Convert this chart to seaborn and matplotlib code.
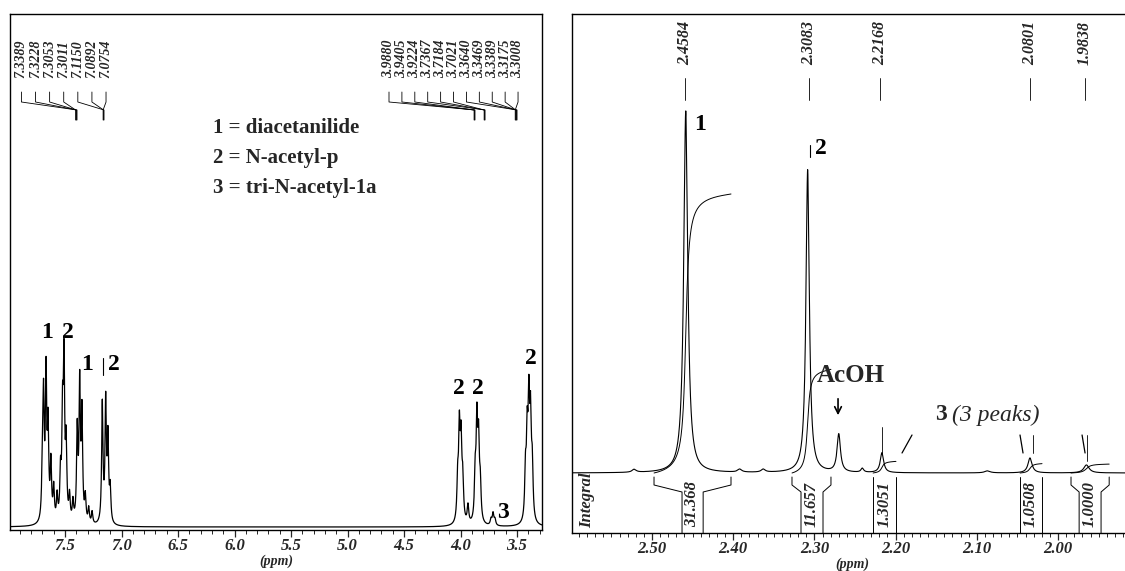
import numpy as np
import pandas as pd
import matplotlib
matplotlib.use("Agg")
import matplotlib.pyplot as plt
from matplotlib.ticker import MultipleLocator
import seaborn as sns

# ---------------- data ----------------
# left spectrum (1H, aromatic and N-acetyl region): peak centre (ppm) and height
arom_ppm = [7.700, 7.690, 7.668, 7.650, 7.625, 7.600, 7.570, 7.540, 7.522, 7.509,
            7.490, 7.460, 7.430, 7.392, 7.370, 7.350, 7.320, 7.290, 7.260,
            7.170, 7.140, 7.120, 7.100]
arom_h = [49, 115, 143, 90, 57, 33, 25, 45, 98, 152,
          74, 25, 20, 90, 135, 107, 25, 15, 12,
          119, 119, 82, 33]
aliph_ppm = [4.025, 4.010, 3.995, 3.980, 3.934, 3.870, 3.855, 3.840, 3.825,
             3.730, 3.712, 3.695, 3.425, 3.410, 3.395, 3.380, 3.365]
aliph_h = [40, 88, 75, 38, 18, 45, 95, 75, 34, 6, 12, 6, 48, 78, 108, 94, 50]

# right spectrum (expanded 1.9-2.6 ppm)
right_ppm = [2.5220, 2.4584, 2.3920, 2.3630, 2.3083, 2.2700, 2.2410, 2.2168, 2.0870, 2.0345, 1.9650]
right_h = [3, 362, 3, 3, 303, 38, 4, 20, 2, 15, 8]

# integrals in the right panel
integral_values = [31.368, 11.657, 1.3051, 1.0508, 1.0000]
integral_labels = ["31.368", "11.657", "1.3051", "1.0508", "1.0000"]

# peak-pick labels
left_shift_labels_a = ["7.3389", "7.3228", "7.3053", "7.3011", "7.1150", "7.0892", "7.0754"]
left_shift_labels_b = ["3.9880", "3.9405", "3.9224", "3.7367", "3.7184", "3.7021",
                       "3.3640", "3.3469", "3.3389", "3.3175", "3.3008"]
right_shift_labels = ["2.4584", "2.3083", "2.2168", "2.0801", "1.9838"]

left_ticks = [7.5, 7.0, 6.5, 6.0, 5.5, 5.0, 4.5, 4.0, 3.5]
left_tick_labels = ["7.5", "7.0", "6.5", "6.0", "5.5", "5.0", "4.5", "4.0", "3.5"]
right_ticks = [2.50, 2.40, 2.30, 2.20, 2.10, 2.00]
right_tick_labels = ["2.50", "2.40", "2.30", "2.20", "2.10", "2.00"]

legend_lines = ["1 = diacetanilide", "2 = N-acetyl-p", "3 = tri-N-acetyl-1a"]

# ---------------- style ----------------
sns.set_theme(style="white")
plt.rcParams["font.family"] = ["Liberation Serif", "DejaVu Serif"]
plt.rcParams["axes.linewidth"] = 1.0
plt.rcParams["axes.edgecolor"] = "black"

SERIF = ["Liberation Serif", "DejaVu Serif"]


def lorentz(x, centers, heights, gamma):
    y = np.zeros_like(x)
    for c, h in zip(centers, heights):
        y += h / (1.0 + ((x - c) / gamma) ** 2)
    return y


fig = plt.figure(figsize=(11.25, 5.71), dpi=100)
axL = fig.add_axes([10 / 1125, 41 / 571, 532 / 1125, 516 / 571])
axR = fig.add_axes([572 / 1125, 38 / 571, 560 / 1125, 519 / 571])

# ---------------- left panel ----------------
xl = np.linspace(7.987, 3.279, 14000)
yl = lorentz(xl, arom_ppm, arom_h, 0.007) + lorentz(xl, aliph_ppm, aliph_h, 0.008)
dfl = pd.DataFrame({"ppm": xl, "I": yl})
sns.lineplot(data=dfl, x="ppm", y="I", ax=axL, color="black", linewidth=0.9,
             estimator=None, errorbar=None)
axL.set_xlim(7.987, 3.279)
axL.set_ylim(-3, 513)
axL.set_yticks([])
axL.set_ylabel("")
axL.set_xticks(left_ticks)
axL.set_xticklabels(left_tick_labels)
axL.xaxis.set_minor_locator(MultipleLocator(0.1))
axL.set_xlabel("(ppm)", fontstyle="italic", fontweight="bold", fontsize=10, labelpad=0)

bold = dict(fontweight="bold", fontsize=17, family=SERIF, color="black")
axL.text(7.655, 194, "1", ha="center", va="center", **bold)
axL.text(7.478, 194, "2", ha="center", va="center", **bold)
axL.text(7.301, 162, "1", ha="center", va="center", **bold)
axL.plot([7.164, 7.164], [152, 169], color="black", lw=0.8)
axL.text(7.071, 162, "2", ha="center", va="center", **bold)
axL.text(4.013, 139, "2", ha="center", va="center", **bold)
axL.text(3.845, 139, "2", ha="center", va="center", **bold)
axL.text(3.376, 169, "2", ha="center", va="center", **bold)
axL.text(3.624, 15, "3", ha="center", va="center", **bold)

for k, line in enumerate(legend_lines):
    axL.text(6.190, 399 - 30 * k, line, ha="left", va="center",
             fontweight="bold", fontsize=15, family=SERIF)

lab_small = dict(rotation=90, ha="center", va="center", fontstyle="italic",
                 fontweight="bold", fontsize=10, family=SERIF)
lab = dict(rotation=90, ha="center", va="center", fontstyle="italic",
           fontweight="bold", fontsize=11.5, family=SERIF)
for i, s in enumerate(left_shift_labels_a):
    lx = 7.886 - i * 0.1248
    tx = 7.394 + 0.004 * (i % 4) if i < 4 else 7.155 + 0.004 * (i - 4)
    axL.text(lx, 468, s, **lab_small)
    axL.plot([lx, lx, tx, tx], [435, 425, 417, 407], color="black", lw=0.6)
for i, s in enumerate(left_shift_labels_b):
    lx = 4.633 - i * 0.1142
    if i < 3:
        tx = 3.872 + 0.004 * i
    elif i < 6:
        tx = 3.783 + 0.004 * (i - 3)
    else:
        tx = 3.50 + 0.004 * (i - 6)
    axL.text(lx, 468, s, **lab_small)
    axL.plot([lx, lx, tx, tx], [435, 425, 417, 407], color="black", lw=0.6)

# ---------------- right panel ----------------
xr = np.linspace(2.5985, 1.9089, 9000)
gam_r = np.array([0.003, 0.0030, 0.003, 0.003, 0.0025, 0.0025, 0.002, 0.0025, 0.004, 0.003, 0.004])
yr = np.zeros_like(xr)
for c, h, g in zip(right_ppm, right_h, gam_r):
    yr += h / (1.0 + ((xr - c) / g) ** 2)
dfr = pd.DataFrame({"ppm": xr, "I": yr})
sns.lineplot(data=dfr, x="ppm", y="I", ax=axR, color="black", linewidth=0.8,
             estimator=None, errorbar=None)

# integral regions: outer-left, inner-left, inner-right, outer-right
regions = [(2.4975, 2.463, 2.437, 2.4027),
           (2.3276, 2.3165, 2.2894, 2.2796),
           (2.2278, 2.2278, 2.1995, 2.1995),
           (2.0468, 2.0468, 2.0197, 2.0197),
           (1.984, 1.974, 1.947, 1.937)]
scale = 279.0 / integral_values[0]
for (oL, iL, iR, oR), val, txt in zip(regions, integral_values, integral_labels):
    m = (xr <= oL) & (xr >= oR)
    cum = np.cumsum(yr[m])
    tr = cum / cum[-1] * val * scale
    sns.lineplot(x=xr[m], y=tr, ax=axR, color="black", linewidth=0.7,
                 estimator=None, errorbar=None, sort=False)
    axR.plot([oL, oL, iL, iL], [-4, -12, -19, -60], color="black", lw=0.7)
    axR.plot([oR, oR, iR, iR], [-4, -12, -19, -60], color="black", lw=0.7)
    axR.text((iL + iR) / 2, -31, txt, rotation=90, ha="center", va="center",
             fontstyle="italic", fontweight="bold", fontsize=12, family=SERIF)

axR.text(2.5795, -27, "Integral", rotation=90, ha="center", va="center",
         fontstyle="italic", fontweight="bold", fontsize=12, family=SERIF)

label_pos_r = [2.4594, 2.3067, 2.2192, 2.0345, 1.9667]
for s, lx in zip(right_shift_labels, label_pos_r):
    axR.text(lx, 430, s, **lab)
    axR.plot([lx, lx], [395, 373], color="black", lw=0.6)

axR.text(2.4409, 348, "1", ha="center", va="center", **bold)
axR.plot([2.3054, 2.3054], [316, 328], color="black", lw=0.8)
axR.text(2.2919, 325, "2", ha="center", va="center", **bold)
axR.text(2.2549, 98, "AcOH", ha="center", va="center", fontweight="bold",
         fontsize=18, family=SERIF)
axR.annotate("", xy=(2.2709, 55), xytext=(2.2709, 77),
             arrowprops=dict(arrowstyle="->", color="black", lw=1.2))
axR.text(2.1515, 58, "3", ha="left", va="center", fontweight="bold",
         fontsize=17, family=SERIF)
axR.text(2.1305, 58, "(3 peaks)", ha="left", va="center", fontstyle="italic",
         fontsize=17, family=SERIF)
# peak markers
axR.plot([2.2167, 2.2167], [20, 46], color="black", lw=0.6)
axR.plot([2.1921, 2.1798], [20, 38], color="black", lw=0.9)
axR.plot([2.0468, 2.0431], [38, 20], color="black", lw=0.9)
axR.plot([2.0308, 2.0308], [20, 38], color="black", lw=0.6)
axR.plot([1.9704, 1.9667], [38, 20], color="black", lw=0.9)
axR.plot([1.9643, 1.9643], [12, 38], color="black", lw=0.6)

axR.set_xlim(2.5985, 1.9089)
axR.set_ylim(-60, 459)
axR.set_yticks([])
axR.set_ylabel("")
axR.set_xticks(right_ticks)
axR.set_xticklabels(right_tick_labels)
axR.xaxis.set_minor_locator(MultipleLocator(0.01))
axR.spines["right"].set_visible(False)
axR.set_xlabel("(ppm)", fontstyle="italic", fontweight="bold", fontsize=10, labelpad=0)

for ax in (axL, axR):
    ax.tick_params(axis="x", which="major", direction="out", length=5, width=0.9,
                   pad=1, labelsize=12, bottom=True)
    ax.tick_params(axis="x", which="minor", direction="out", length=3, width=0.7,
                   bottom=True)
    for t in ax.get_xticklabels():
        t.set_fontstyle("italic")
        t.set_fontweight("bold")

fig.savefig("out.png", dpi=100, facecolor="white")
